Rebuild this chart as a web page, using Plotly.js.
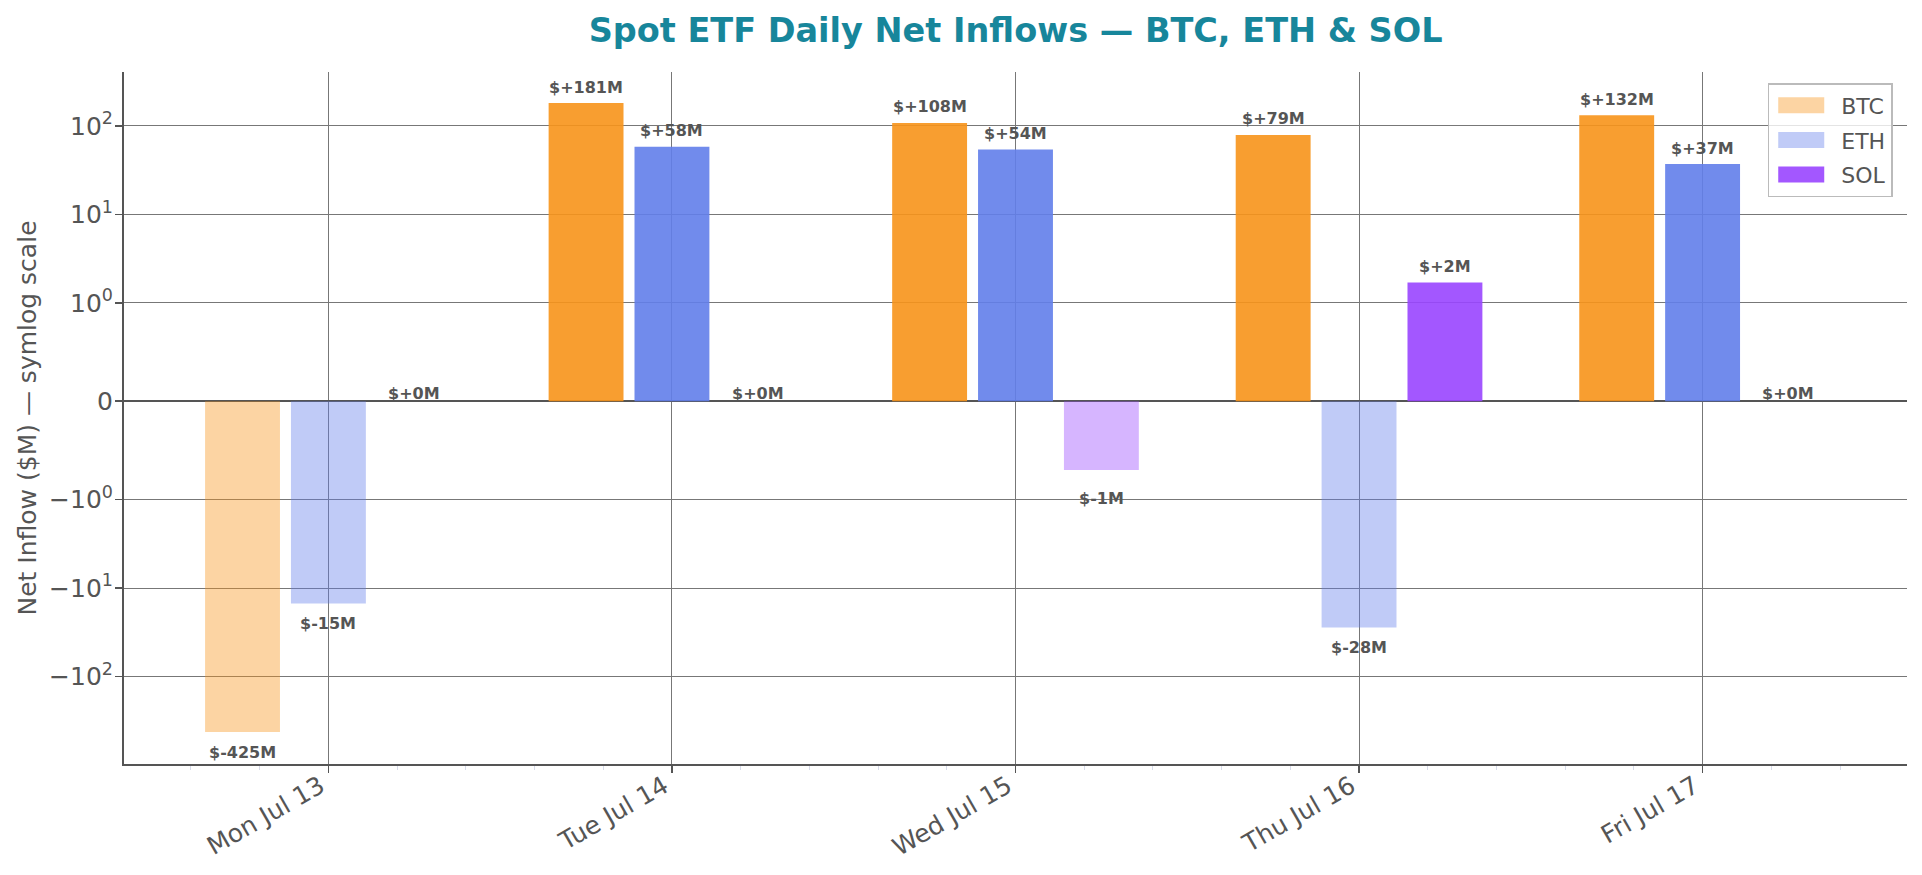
<!DOCTYPE html>
<html>
<head>
<meta charset="utf-8">
<script src="https://cdn.plot.ly/plotly-3.0.1.min.js"></script>
<style>
  html, body { margin: 0; padding: 0; background: #fff; }
  #chart { width: 1922px; height: 875px; }
</style>
</head>
<body>
<div id="chart"></div>
<script>
// Daily net inflows, $M
const days = ['Mon Jul 13', 'Tue Jul 14', 'Wed Jul 15', 'Thu Jul 16', 'Fri Jul 17'];
const btcFlows = [-425, 181, 108, 79, 132];
const ethFlows = [-15, 58, 54, -28, 37];
const solFlows = [0, 0, -0.7, 1.7, 0];

const seriesNames = ['BTC', 'ETH', 'SOL'];
const seriesRGB = ['247,147,26', '98,126,234', '153,69,255'];

// symmetric-log y ticks
const yTickValues = [-100, -10, -1, 0, 1, 10, 100];
const yTickLabels = ['\u221210<sup>2</sup>', '\u221210<sup>1</sup>', '\u221210<sup>0</sup>', '0',
                     '10<sup>0</sup>', '10<sup>1</sup>', '10<sup>2</sup>'];

// symlog transform (linthresh 1, linscale 1, base 10)
const LINTHRESH = 1;
const LIN_ADJ = 1 / (1 - 1 / 10);
function symlog(v) {
  const a = Math.abs(v);
  if (a <= LINTHRESH) return v * LIN_ADJ;
  return Math.sign(v) * LINTHRESH * (LIN_ADJ + Math.log10(a / LINTHRESH));
}

const allFlows = [btcFlows, ethFlows, solFlows];
const xIdx = days.map((_, i) => i);
const SLOT = 0.25;          // group slot per series
const LABEL_PAD = 1.25;     // label sits just past the bar end (in value space)

const fmt = v => '$' + (v >= 0 ? '+' : '-') + Math.abs(v).toFixed(0) + 'M';
const colorFor = (rgb, v) => 'rgba(' + rgb + ',' + (v >= 0 ? 0.9 : 0.4) + ')';

const traces = allFlows.map((vals, k) => ({
  type: 'bar',
  name: seriesNames[k],
  legendgroup: seriesNames[k],
  x: xIdx,
  y: vals.map(symlog),
  customdata: vals,
  hovertemplate: seriesNames[k] + ' %{customdata}M<extra></extra>',
  marker: { color: vals.map(v => colorFor(seriesRGB[k], v)), line: { width: 0 } }
}));

const annotations = [];
allFlows.forEach((vals, k) => {
  vals.forEach((v, i) => {
    annotations.push({
      x: i + (k - 1) * SLOT,
      y: symlog(v * LABEL_PAD),
      xref: 'x', yref: 'y',
      text: fmt(v),
      showarrow: false,
      yanchor: v >= 0 ? 'bottom' : 'top',
      yshift: v >= 0 ? -4 : 0,
      font: { family: 'DejaVu Sans', size: 16, color: '#555', weight: 'bold' }
    });
  });
});

const layout = {
  width: 1922, height: 875,
  margin: { l: 124, r: 15, t: 72, b: 111 },
  paper_bgcolor: '#fff', plot_bgcolor: '#fff',
  font: { family: 'DejaVu Sans', color: '#555' },
  title: {
    text: '<b>Spot ETF Daily Net Inflows — BTC, ETH &amp; SOL</b>',
    x: 0.5284, xanchor: 'center', xref: 'container',
    y: 0.965, yanchor: 'middle', yref: 'container',
    font: { family: 'DejaVu Sans', size: 33.5, color: '#17869b' }
  },
  barmode: 'group',
  bargap: 0.25,
  bargroupgap: 0.128,
  showlegend: true,
  legend: {
    x: 0.992, xanchor: 'right', y: 0.984, yanchor: 'top',
    bgcolor: 'rgba(255,255,255,0.8)', bordercolor: '#bbb', borderwidth: 1.5,
    font: { family: 'DejaVu Sans', size: 22, color: '#555' },
    itemwidth: 62, tracegroupgap: 3, traceorder: 'grouped'
  },
  xaxis: {
    range: [-0.595, 4.595],
    tickmode: 'array', tickvals: xIdx, ticktext: days,
    tickangle: -30,
    tickfont: { family: 'DejaVu Sans', size: 25, color: '#555' },
    ticklabelshift: -8, ticklabelstandoff: -11,
    ticks: 'outside', ticklen: 7, tickwidth: 1.5, tickcolor: '#555',
    showgrid: true, gridcolor: '#777', gridwidth: 1,
    showline: true, linecolor: '#555', linewidth: 2,
    zeroline: false,
    minor: { tickmode: 'linear', tick0: 0, dtick: 0.2, ticks: 'outside', ticklen: 4,
             tickwidth: 1, tickcolor: '#d8dcea', showgrid: false }
  },
  yaxis: {
    range: [-4.10, 3.72],
    tickmode: 'array', tickvals: yTickValues.map(symlog), ticktext: yTickLabels,
    tickfont: { family: 'DejaVu Sans', size: 25, color: '#555' },
    ticklabelstandoff: -3,
    ticks: 'outside', ticklen: 7, tickwidth: 1.5, tickcolor: '#555',
    showgrid: true, gridcolor: '#777', gridwidth: 1,
    showline: true, linecolor: '#555', linewidth: 2,
    zeroline: true, zerolinecolor: '#555', zerolinewidth: 2.5,
    title: { text: 'Net Inflow ($M) — symlog scale', standoff: 5,
             font: { family: 'DejaVu Sans', size: 25, color: '#555' } }
  },
  annotations: annotations
};

Plotly.newPlot('chart', traces, layout, { displayModeBar: false, staticPlot: true }).then(gd => {
  // wider, flatter legend swatches
  gd.querySelectorAll('.legend .legendpoints path').forEach(p => {
    p.setAttribute('d', 'M-27,-8H19V8H-27Z');
  });
});
</script>
</body>
</html>
